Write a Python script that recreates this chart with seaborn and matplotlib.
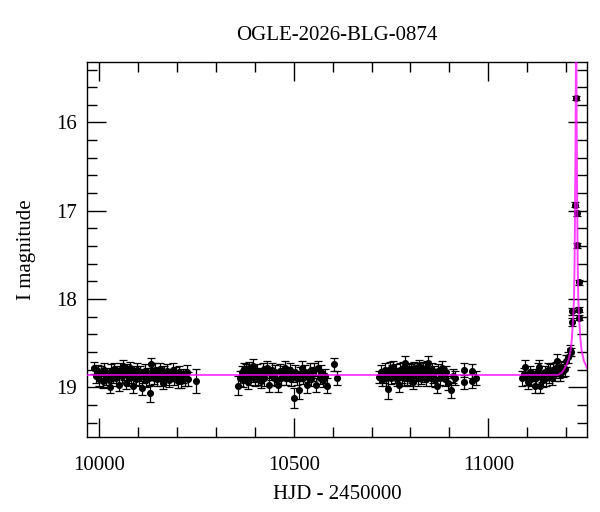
import numpy as np
import pandas as pd
import seaborn as sns
import matplotlib
import matplotlib.pyplot as plt
from matplotlib.ticker import MultipleLocator
matplotlib.use('Agg')

sns.set_theme(style="ticks")
plt.rcParams['font.family'] = ['Liberation Serif', 'DejaVu Serif']
plt.rcParams['text.color'] = 'black'
plt.rcParams['axes.labelcolor'] = 'black'
plt.rcParams['xtick.color'] = 'black'
plt.rcParams['ytick.color'] = 'black'

title = 'OGLE-2026-BLG-0874'

# photometry: season 1
hjd_s1 = [9986, 9992, 9996, 10000, 10004, 10008, 10012, 10016, 10020, 10024,
          10027, 10031, 10035, 10038, 10042, 10046, 10050, 10053, 10057, 10060,
          10064, 10068, 10071, 10075, 10078, 10082, 10087, 10090, 10094, 10097,
          10101, 10105, 10109, 10112, 10116, 10120, 10124, 10128, 10130, 10132,
          10136, 10140, 10144, 10148, 10152, 10156, 10160, 10163, 10167, 10171,
          10175, 10179, 10183, 10188, 10192, 10197, 10201, 10205, 10210, 10214,
          10220, 10225, 10229, 10248]
mag_s1 = [18.78, 18.87, 18.82, 18.91, 18.83, 18.93, 18.80, 18.89, 18.85, 18.92,
          19.00, 18.81, 18.87, 18.79, 18.90, 18.83, 18.97, 18.80, 18.87, 18.76,
          18.85, 18.95, 18.81, 18.90, 18.78, 18.87, 18.99, 18.83, 18.91, 18.80,
          18.89, 18.83, 19.01, 18.87, 18.81, 18.92, 18.85, 18.90, 19.07, 18.74,
          18.81, 18.89, 18.80, 18.91, 18.85, 18.79, 18.90, 18.95, 18.83, 18.89,
          18.81, 18.92, 18.86, 18.80, 18.90, 18.85, 18.93, 18.83, 18.93, 18.87,
          18.90, 18.83, 18.91, 18.93]
err_s1 = [0.07, 0.08, 0.07, 0.08, 0.07, 0.08, 0.07, 0.08, 0.07, 0.08,
          0.07, 0.07, 0.08, 0.07, 0.08, 0.07, 0.07, 0.07, 0.08, 0.07,
          0.07, 0.07, 0.07, 0.08, 0.07, 0.08, 0.07, 0.07, 0.08, 0.07,
          0.08, 0.07, 0.08, 0.08, 0.07, 0.08, 0.07, 0.08, 0.10, 0.07,
          0.08, 0.07, 0.08, 0.07, 0.08, 0.07, 0.08, 0.07, 0.07, 0.08,
          0.07, 0.08, 0.07, 0.08, 0.07, 0.08, 0.08, 0.07, 0.08, 0.08,
          0.08, 0.08, 0.08, 0.14]

# season 2
hjd_s2 = [10357, 10362, 10366, 10369, 10372, 10375, 10378, 10381, 10384, 10387,
          10390, 10394, 10397, 10400, 10404, 10408, 10412, 10416, 10420, 10424,
          10428, 10432, 10436, 10440, 10444, 10448, 10452, 10456, 10460, 10464,
          10468, 10472, 10477, 10481, 10485, 10489, 10493, 10497, 10500, 10504,
          10508, 10514, 10517, 10520, 10524, 10528, 10533, 10537, 10541, 10545,
          10549, 10553, 10557, 10562, 10566, 10570, 10575, 10579, 10584, 10604,
          10612]
mag_s2 = [18.98, 18.90, 18.83, 18.92, 18.79, 18.87, 18.81, 18.94, 18.78, 18.89,
          18.83, 18.76, 18.87, 18.91, 18.81, 18.89, 18.85, 18.93, 18.80, 18.90,
          18.83, 18.78, 18.97, 18.85, 18.80, 18.90, 18.83, 18.92, 18.97, 18.81,
          18.89, 18.83, 18.78, 18.90, 18.85, 18.80, 18.91, 18.87, 19.12, 18.83,
          18.90, 19.03, 18.85, 18.78, 18.89, 18.83, 18.97, 18.87, 18.81, 18.91,
          18.85, 18.80, 18.97, 18.78, 18.89, 18.83, 18.92, 18.87, 18.98, 18.74,
          18.89]
err_s2 = [0.11, 0.08, 0.07, 0.08, 0.07, 0.08, 0.07, 0.08, 0.07, 0.08,
          0.07, 0.08, 0.07, 0.08, 0.07, 0.08, 0.07, 0.08, 0.07, 0.08,
          0.07, 0.08, 0.08, 0.07, 0.08, 0.07, 0.08, 0.07, 0.08, 0.07,
          0.08, 0.07, 0.08, 0.07, 0.08, 0.07, 0.08, 0.07, 0.11, 0.08,
          0.07, 0.10, 0.08, 0.08, 0.07, 0.08, 0.09, 0.07, 0.08, 0.07,
          0.08, 0.07, 0.08, 0.08, 0.07, 0.08, 0.08, 0.08, 0.08, 0.07,
          0.08]

# season 3
hjd_s3 = [10719, 10723, 10727, 10731, 10735, 10738, 10741, 10744, 10747, 10750,
          10753, 10756, 10759, 10762, 10765, 10768, 10771, 10774, 10777, 10780,
          10783, 10786, 10789, 10792, 10795, 10798, 10801, 10804, 10807, 10810,
          10813, 10816, 10819, 10822, 10825, 10828, 10831, 10834, 10837, 10840,
          10843, 10846, 10849, 10852, 10855, 10858, 10861, 10864, 10869, 10872,
          10876, 10880, 10884, 10888, 10892, 10897, 10903, 10909, 10914, 10937,
          10938, 10957, 10958, 10968]
mag_s3 = [18.88, 18.83, 18.92, 18.87, 18.80, 18.90, 19.02, 18.85, 18.79, 18.89,
          18.83, 18.77, 18.87, 18.81, 18.91, 18.85, 18.97, 18.80, 18.87, 18.78,
          18.90, 18.73, 18.83, 18.89, 18.79, 18.91, 18.81, 18.87, 18.94, 18.78,
          18.85, 18.80, 18.90, 18.76, 18.83, 18.89, 18.79, 18.87, 18.81, 18.91,
          18.78, 18.73, 18.85, 18.90, 18.80, 18.87, 18.83, 18.92, 18.98, 18.81,
          18.89, 18.78, 18.85, 18.91, 18.83, 18.95, 19.03, 18.87, 18.89, 18.80,
          18.94, 18.82, 18.93, 18.89]
err_s3 = [0.07, 0.08, 0.07, 0.08, 0.07, 0.08, 0.11, 0.07, 0.08, 0.07,
          0.08, 0.07, 0.08, 0.07, 0.08, 0.07, 0.08, 0.07, 0.08, 0.07,
          0.08, 0.08, 0.07, 0.08, 0.07, 0.08, 0.07, 0.08, 0.08, 0.07,
          0.08, 0.07, 0.08, 0.07, 0.08, 0.07, 0.08, 0.07, 0.08, 0.07,
          0.08, 0.08, 0.07, 0.08, 0.07, 0.08, 0.07, 0.08, 0.08, 0.07,
          0.08, 0.08, 0.07, 0.08, 0.07, 0.08, 0.09, 0.08, 0.08, 0.08,
          0.08, 0.08, 0.08, 0.08]

# season 4 (event)
hjd_s4 = [11088, 11092, 11095, 11099, 11103, 11107, 11111, 11115, 11120, 11124,
          11127, 11131, 11133, 11137, 11141, 11145, 11149, 11153, 11157, 11160,
          11164, 11167, 11171, 11174, 11177, 11181, 11184, 11188, 11192, 11197,
          11201, 11205, 11210, 11212, 11215, 11215.5, 11222, 11225, 11227.5, 11228.3,
          11233.4, 11234, 11234.5]
mag_s4 = [18.90, 18.85, 18.77, 18.90, 18.94, 18.83, 18.91, 18.86, 18.99, 18.89,
          18.81, 18.77, 18.99, 18.87, 18.92, 18.83, 18.90, 18.80, 18.87, 18.81,
          18.89, 18.80, 18.85, 18.78, 18.70, 18.82, 18.85, 18.77, 18.81, 18.79,
          18.70, 18.66, 18.58, 18.60, 18.14, 18.26, 16.93, 15.72, 17.03, 17.39,
          17.81, 18.12, 18.21]
err_s4 = [0.08, 0.07, 0.08, 0.07, 0.08, 0.07, 0.08, 0.07, 0.08, 0.07,
          0.08, 0.08, 0.08, 0.07, 0.08, 0.07, 0.08, 0.07, 0.08, 0.07,
          0.08, 0.07, 0.08, 0.07, 0.08, 0.07, 0.08, 0.07, 0.07, 0.08,
          0.07, 0.06, 0.06, 0.05, 0.04, 0.04, 0.03, 0.02, 0.03, 0.03,
          0.03, 0.03, 0.03]

# model curve
model_hjd = [9968, 11180, 11190, 11196, 11202, 11207, 11212, 11215, 11218, 11220.5,
             11222, 11223.3, 11224.5, 11225.5, 11226, 11226.6, 11227.6, 11228.8, 11230, 11231.5,
             11234, 11237, 11240, 11246, 11255]
model_mag = [18.86, 18.86, 18.83, 18.79, 18.74, 18.68, 18.58, 18.45, 18.25, 18.00,
             17.60, 16.93, 16.20, 15.20, 14.80, 15.20, 16.20, 16.93, 17.60, 18.00,
             18.25, 18.45, 18.58, 18.70, 18.79]

obs = pd.DataFrame({
    'hjd': hjd_s1 + hjd_s2 + hjd_s3 + hjd_s4,
    'mag': mag_s1 + mag_s2 + mag_s3 + mag_s4,
    'err': err_s1 + err_s2 + err_s3 + err_s4,
})
model = pd.DataFrame({'hjd': model_hjd, 'mag': model_mag})

fig = plt.figure(figsize=(6.0, 5.12), dpi=100)
ax = fig.add_axes([0.145, 0.147, 0.834, 0.731])

ax.errorbar(obs['hjd'], obs['mag'], yerr=obs['err'], fmt='none', ecolor='black',
            elinewidth=0.9, capsize=2.8, capthick=0.9, zorder=2)
sns.scatterplot(data=obs, x='hjd', y='mag', ax=ax, color='black', s=26,
                edgecolor='black', linewidth=0, zorder=3)
sns.lineplot(data=model, x='hjd', y='mag', ax=ax, color='#ff00ff', lw=1.4,
             alpha=0.75, estimator=None, sort=False, zorder=4)

ax.set_xlim(9968, 11255)
ax.set_ylim(19.56, 15.32)

ax.xaxis.set_major_locator(MultipleLocator(500))
ax.xaxis.set_minor_locator(MultipleLocator(100))
ax.yaxis.set_major_locator(MultipleLocator(1))
ax.yaxis.set_minor_locator(MultipleLocator(0.2))
ax.tick_params(which='both', direction='in', top=True, right=True, color='black', width=1.0)
ax.tick_params(which='major', length=13.5)
ax.tick_params(which='minor', length=7)
ax.tick_params(axis='x', which='major', pad=14, labelsize=15)
ax.tick_params(axis='y', which='major', pad=7, labelsize=15)
for sp in ax.spines.values():
    sp.set_color('black')
    sp.set_linewidth(1.0)

ax.set_xlabel('HJD - 2450000', fontsize=15, labelpad=7)
ax.set_ylabel('I magnitude', fontsize=15, labelpad=15)
ax.set_title(title, fontsize=15, pad=16)

fig.savefig('out.png', dpi=100)
